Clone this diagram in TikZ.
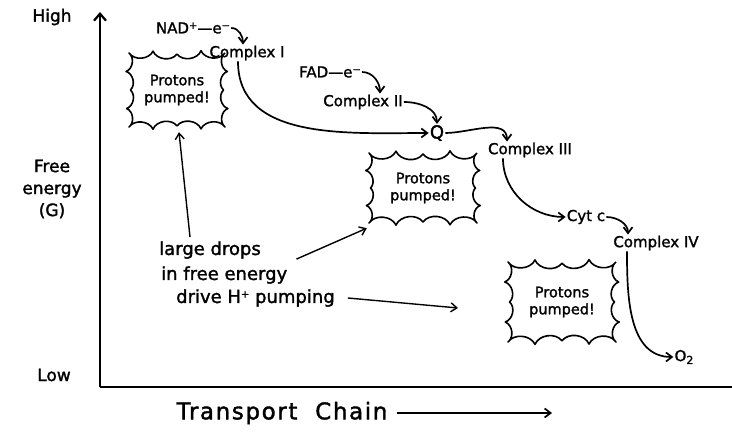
\documentclass[tikz,border=0pt]{standalone}
\usepackage{fontspec}
\setmainfont{DejaVu Sans}
\newfontfamily\hand[FakeBold=1.6]{DejaVu Sans}
\usetikzlibrary{arrows.meta,calc}
\newcommand\drawburst[3]{%
  \draw[burstline] ($(#1.center)+(#2,#3)$)
   \foreach \u/\v in {0.5/1.06,0/0.97,-0.5/1.05,-1/1,-1.06/0.5,-0.97/0,-1.05/-0.5,-1/-1,-0.5/-1.06,0/-0.97,0.5/-1.05,1/-1,1.06/-0.5,0.97/0,1.05/0.5,1/1}
   { to[bend left=60] ($(#1.center)+({\u*#2},{\v*#3})$) };%
}
\newcommand\up[1]{\raisebox{0.55ex}{\fontsize{10}{10}\selectfont #1}}
\newcommand\dn[1]{\raisebox{-0.35ex}{\fontsize{11}{11}\selectfont #1}}
\begin{document}
\begin{tikzpicture}[x=1pt,y=1pt,
  lbl/.style={inner sep=1pt,font=\hand\fontsize{15}{17}\selectfont},
  axlbl/.style={inner sep=1pt,font=\hand\fontsize{17}{22}\selectfont,align=center},
  btext/.style={inner sep=0pt,align=center,font=\hand\fontsize{14.5}{17}\selectfont},
  note/.style={inner sep=1pt,anchor=west,font=\hand\fontsize{18}{20}\selectfont},
  burstline/.style={line width=1.6pt,line join=round},
  arr/.style={-{Straight Barb[length=6pt,width=9pt]},line width=1.7pt},
  axis/.style={line width=2.2pt}]
\useasboundingbox (0,0) rectangle (732,434);
% axes
\coordinate (org) at (100,47);
\coordinate (ytop) at (100,422);
\coordinate (xend) at (732,47);
\draw[axis,-{Straight Barb[length=7pt,width=12pt]}] (org) -- (ytop);
\draw[axis] (org) -- (xend);
\node[axlbl] (high) at (52,417) {High};
\node[axlbl] (low) at (54,59) {Low};
\node[axlbl] (fe) at (52,245) {Free\\energy\\(G)};
\node[axlbl,font=\hand\fontsize{23}{26}\addfontfeature{LetterSpace=7}\selectfont] (tc) at (282,21) {Transport\ \ Chain};
\coordinate (tcend) at (552,21);
\draw[arr] ([xshift=8pt]tc.east) -- (tcend);
% chain
\node[lbl] (nad) at (193,406) {NAD\up{+}—e\up{−}};
\node[lbl] (c1) at (247,381) {Complex I};
\node[lbl] (fad) at (330,362) {FAD—e\up{−}};
\node[lbl,font=\hand\fontsize{18}{20}\selectfont] (q) at (437,301) {Q};
\node[lbl] (c2) at (363,332) {Complex II};
\node[lbl] (c3) at (530,284) {Complex III};
\node[lbl] (cyt) at (586,217) {Cyt c};
\node[lbl] (c4) at (656,191) {Complex IV};
\node[lbl] (o2) at (684,77) {O\dn{2}};
\draw[arr] (nad.east) to[out=0,in=90] ([xshift=-4pt]c1.north);
\draw[arr] ([xshift=-9pt]c1.south) to[out=-90,in=180] (q.west);
\draw[arr] (fad.east) to[out=0,in=90] ([xshift=17pt]c2.north);
\draw[arr] (c2.east) to[out=0,in=90] (q.north);
\draw[arr] (q.east) to[out=0,in=90] ([xshift=-23pt]c3.north);
\draw[arr] ([xshift=-27pt]c3.south) to[out=-90,in=180] (cyt.west);
\draw[arr] (cyt.east) to[out=0,in=90] ([xshift=-28pt]c4.north);
\draw[arr] ([xshift=-29pt]c4.south) to[out=-90,in=180] (o2.west);
% bursts
\node[btext,minimum width=96pt,minimum height=74pt] (b1) at (177,344) {Protons\\pumped!};
\node[btext,minimum width=108pt,minimum height=70pt] (b2) at (423,246) {Protons\\pumped!};
\node[btext,minimum width=108pt,minimum height=80pt] (b3) at (562,132) {Protons\\pumped!};
\drawburst{b1}{48}{37}
\drawburst{b2}{54}{35}
\drawburst{b3}{54}{40}
% note
\node[note] (n1) at (158,184) {large drops};
\node[note] (n2) at (160,159) {in free energy};
\node[note] (n3) at (175,136) {drive H\up{+} pumping};
\coordinate (t3) at (458,126);
\draw[arr,line width=1.4pt] ([xshift=32pt,yshift=3pt]n1.north west) -- ([shift={(2pt,-5pt)}]b1.south);
\draw[arr,line width=1.4pt] ([shift={(8pt,6pt)}]n2.north east) -- ([shift={(-2pt,-5pt)}]b2.south west);
\draw[arr,line width=1.4pt] ([xshift=12pt]n3.east) -- (t3);
\end{tikzpicture}
\end{document}
